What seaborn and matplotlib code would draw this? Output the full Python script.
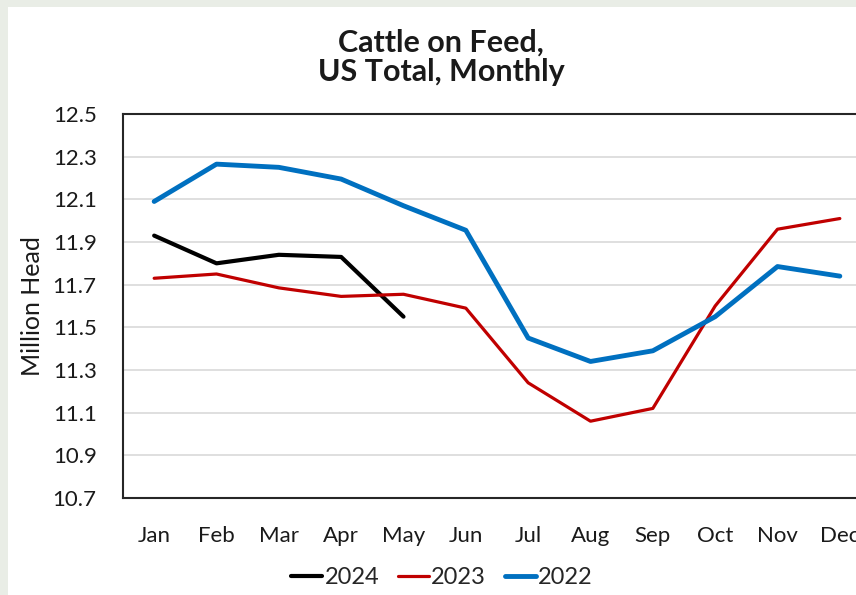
import matplotlib
matplotlib.use("Agg")
import matplotlib.pyplot as plt
import numpy as np
import pandas as pd
import seaborn as sns

# Data (million head)
months = ['Jan', 'Feb', 'Mar', 'Apr', 'May', 'Jun',
          'Jul', 'Aug', 'Sep', 'Oct', 'Nov', 'Dec']
cof_2024 = [11.93, 11.80, 11.84, 11.83, 11.55]
cof_2023 = [11.73, 11.75, 11.685, 11.645, 11.655, 11.59,
            11.24, 11.06, 11.12, 11.60, 11.96, 12.01]
cof_2022 = [12.09, 12.265, 12.25, 12.195, 12.07, 11.955,
            11.45, 11.34, 11.39, 11.55, 11.785, 11.74]
y_ticks = [10.7, 10.9, 11.1, 11.3, 11.5, 11.7, 11.9, 12.1, 12.3, 12.5]

years = ['2024', '2023', '2022']
colors = {'2024': '#000000', '2023': '#C00000', '2022': '#0070C0'}
widths = {'2024': 3.0, '2023': 2.3, '2022': 3.5}

rows = []
for year, vals in zip(years, [cof_2024, cof_2023, cof_2022]):
    for i, v in enumerate(vals):
        rows.append({'month': i, 'year': year, 'value': v})
df = pd.DataFrame(rows)

sns.set_style("white")
plt.rcParams['font.family'] = ['Lato', 'DejaVu Sans']

fig = plt.figure(figsize=(8.56, 5.95), dpi=100)
fig.patch.set_facecolor('#E9EDE6')
# white slide panel
panel = plt.Rectangle((8 / 856, 0), 1, 1 - 7 / 595,
                      transform=fig.transFigure,
                      facecolor='white', edgecolor='none', zorder=-10)
fig.patches.append(panel)

ax = fig.add_axes([123 / 856, 97 / 595, 748 / 856, 384 / 595])
ax.set_facecolor('none')
ax.set_zorder(1)

sns.lineplot(data=df, x='month', y='value', hue='year', hue_order=years,
             palette=colors, ax=ax, legend=False, sort=False)
for line, year in zip(ax.get_lines(), years):
    line.set_linewidth(widths[year])
    line.set_label(year)

ax.set_xlim(-0.5, 11.5)
ax.set_ylim(10.7, 12.5)
ax.set_xticks(range(12))
ax.set_xticklabels(months, fontsize=16)
ax.set_yticks(y_ticks)
ax.set_yticklabels([f'{t:.1f}' for t in y_ticks], fontsize=16)
ax.tick_params(axis='both', length=0, colors='#1a1a1a')
ax.tick_params(axis='x', pad=20)
ax.tick_params(axis='y', pad=19)
ax.grid(axis='y', color='#D9D9D9', linewidth=1.2)
ax.set_axisbelow(True)

for side in ['left', 'top', 'bottom']:
    ax.spines[side].set_color('#262626')
    ax.spines[side].set_linewidth(1.5)
ax.spines['right'].set_visible(False)

ax.set_xlabel('')
ax.set_ylabel('Million Head', fontsize=18, labelpad=6, color='#1a1a1a')

fig.text(441 / 856, 1 - 43 / 595, 'Cattle on Feed,', ha='center', va='center',
         fontsize=22, fontweight='bold', color='#1a1a1a')
fig.text(441 / 856, 1 - 72 / 595, 'US Total, Monthly', ha='center', va='center',
         fontsize=22, fontweight='bold', color='#1a1a1a')

fig.legend(handles=ax.get_lines(), labels=years, loc='center',
           bbox_to_anchor=(442 / 856, 1 - 578 / 595), ncol=3, frameon=False,
           fontsize=17, handlelength=1.3, handletextpad=0.1,
           columnspacing=0.8)

fig.savefig('out.png', dpi=100)
